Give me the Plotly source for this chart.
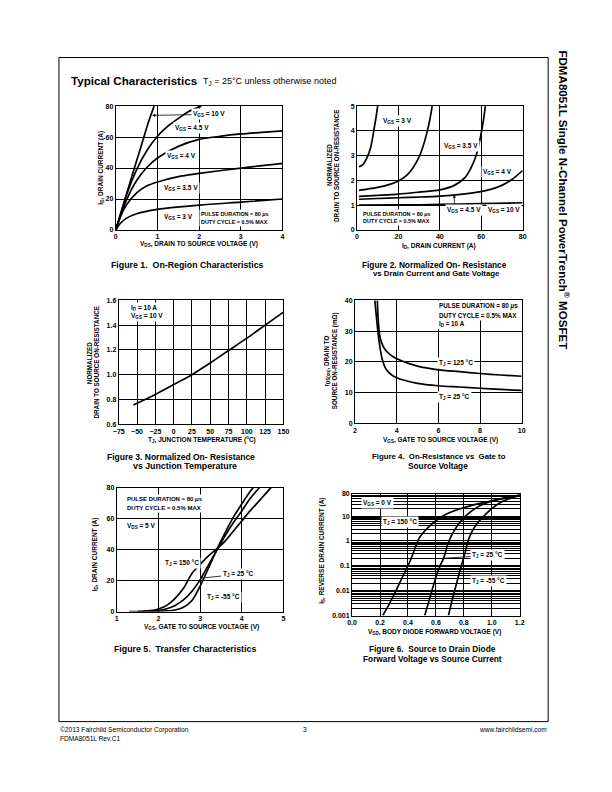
import plotly.graph_objects as go
import math

W, H = 612, 792

# ---------------- DATA ----------------
# Figure 1: ID vs VDS for several VGS
f1_vds_10 = [0, 0.2, 0.4, 0.6, 0.8, 0.92]
f1_id_10 = [0, 18, 36, 53.5, 71, 80]
f1_vds_45 = [0, 0.1, 0.25, 0.5, 0.75, 1.0, 1.25, 1.5, 1.75, 2.0, 2.05]
f1_id_45 = [0, 9, 22, 39, 51.5, 60.5, 67, 72, 76.5, 79.5, 80]
f1_vds_4 = [0, 0.1, 0.25, 0.5, 0.75, 1.0, 1.5, 2.0, 2.5, 3.0, 3.5, 4.0]
f1_id_4 = [0, 8, 19, 32, 40.5, 46.5, 54, 58.5, 60.5, 62, 63, 64]
f1_vds_35 = [0, 0.1, 0.25, 0.5, 0.75, 1.0, 1.5, 2.0, 3.0, 4.0]
f1_id_35 = [0, 8, 16, 24, 28.5, 31, 34.5, 36.5, 40, 43]
f1_vds_3 = [0, 0.1, 0.25, 0.5, 1.0, 2.0, 3.0, 4.0]
f1_id_3 = [0, 4, 7.5, 10.5, 13.3, 16, 18, 20]

# Figure 2: normalized RDS(on) vs ID
f2_id_a = [1, 3, 5, 6.5, 7.5, 8.5, 9.3, 10]
f2_r_a = [2.55, 2.65, 2.95, 3.3, 3.7, 4.2, 4.6, 5.0]
f2_id_b = [1, 5, 10, 15, 20, 24, 27, 30, 32, 34, 35.5, 36.3]
f2_r_b = [1.6, 1.65, 1.72, 1.82, 1.98, 2.2, 2.5, 2.95, 3.4, 4.0, 4.6, 5.0]
f2_id_c = [1, 10, 20, 30, 40, 47, 52, 55, 57.5, 59.5, 61, 62]
f2_r_c = [1.36, 1.4, 1.45, 1.53, 1.62, 1.8, 2.1, 2.5, 3.0, 3.7, 4.4, 5.0]
f2_id_d = [1, 10, 20, 30, 40, 50, 60, 65, 70, 75, 80]
f2_r_d = [1.24, 1.27, 1.3, 1.33, 1.37, 1.44, 1.55, 1.65, 1.8, 2.05, 2.4]
f2_id_e = [1, 20, 40, 60, 80]
f2_r_e = [1.0, 1.01, 1.03, 1.06, 1.1]

# Figure 3: normalized RDS(on) vs TJ
f3_tj = [-55, -25, 0, 25, 50, 75, 100, 125, 150]
f3_r = [0.755, 0.84, 0.92, 1.0, 1.095, 1.195, 1.295, 1.4, 1.505]

# Figure 4: RDS(on) vs VGS
f4_vgs_125 = [3.07, 3.12, 3.2, 3.35, 3.5, 3.75, 4, 5, 6, 7, 8, 9, 10]
f4_r_125 = [40, 33, 28, 25, 23.5, 22, 21, 18.6, 17.4, 16.8, 16.2, 15.7, 15.3]
f4_vgs_25 = [2.95, 3.05, 3.15, 3.3, 3.5, 3.75, 4, 5, 6, 7, 8, 9, 10]
f4_r_25 = [40, 33, 27, 21, 17.5, 15.8, 14.8, 13, 12.2, 11.8, 11.4, 11, 10.7]

# Figure 5: transfer characteristics
f5_vgs_150 = [1.3, 1.6, 1.8, 2.0, 2.2, 2.4, 2.6, 2.8, 3.0, 3.2, 3.4, 3.6, 3.8, 4.0, 4.2, 4.4, 4.6, 4.7]
f5_id_150 = [0, 0.2, 0.6, 1.7, 4, 8.5, 15, 24.5, 30.5, 36, 40.5, 45.5, 52, 58.5, 65, 71, 77, 80]
f5_vgs_25 = [1.5, 1.8, 2.0, 2.2, 2.4, 2.6, 2.8, 3.0, 3.2, 3.4, 3.6, 3.8, 4.0, 4.2, 4.42]
f5_id_25 = [0, 0.2, 0.6, 1.8, 4, 7.5, 13, 20.5, 30, 39.5, 49, 57.5, 65, 73, 80]
f5_vgs_m55 = [1.8, 2.2, 2.4, 2.6, 2.8, 3.0, 3.2, 3.4, 3.6, 3.8, 4.0, 4.2, 4.27]
f5_id_m55 = [0, 0.4, 1, 2.8, 7, 16.5, 28, 40, 51, 61, 69.5, 77.5, 80]

# Figure 6: body diode forward voltage vs source current
f6_vsd_150 = [0.22, 0.26, 0.30, 0.34, 0.38, 0.42, 0.46, 0.48, 0.52, 0.56, 0.6, 0.65, 0.7, 0.8, 0.9, 1.0, 1.1, 1.2]
f6_is_150 = [0.001, 0.0025, 0.007, 0.02, 0.06, 0.18, 0.7, 1.3, 2.5, 4.2, 6.5, 10, 14, 22, 31, 41, 53, 68]
f6_vsd_25 = [0.52, 0.56, 0.6, 0.63, 0.655, 0.68, 0.7, 0.73, 0.77, 0.82, 0.88, 0.95, 1.05, 1.2]
f6_is_25 = [0.001, 0.006, 0.035, 0.1, 0.2, 0.6, 1.2, 2.5, 5.5, 11, 20, 32, 48, 70]
f6_vsd_m55 = [0.69, 0.72, 0.75, 0.78, 0.81, 0.83, 0.86, 0.9, 0.95, 1.0, 1.05, 1.1, 1.15, 1.2]
f6_is_m55 = [0.001, 0.005, 0.022, 0.09, 0.35, 1, 2.5, 5.5, 11, 20, 32, 44, 56, 68]
f6_ytick_vals = [0.001, 0.01, 0.1, 1, 10, 80]
f6_ytick_text = ["0.001", "0.01", "0.1", "1", "10", "80"]

# ---------------- HELPERS ----------------
FONT = "Liberation Sans, Arial, sans-serif"


def px(x):
    return x / W


def py(y):
    return 1 - y / H


fig = go.Figure()


def add_line(xs, ys, ax):
    fig.add_trace(go.Scatter(
        x=xs, y=ys, mode="lines",
        line=dict(color="black", width=1.7, shape="spline", smoothing=0.8),
        xaxis="x" + ax, yaxis="y" + ax, showlegend=False, hoverinfo="skip"))


annotations = []


def ann(x, y, text, size=6.5, xanchor="left", angle=0, bold=True, bg=None, yanchor="middle"):
    d = dict(x=px(x), y=py(y), xref="paper", yref="paper", text=text, showarrow=False,
             xanchor=xanchor, yanchor=yanchor, textangle=angle,
             font=dict(family=FONT, size=size, color="black", weight="bold" if bold else "normal"))
    if bg:
        d["bgcolor"] = bg
        d["borderpad"] = 1
    annotations.append(d)


def lab(x, y, text, size=6.5):
    ann(x, y, text, size=size, bg="white")


def axis(dom_x0, dom_x1, rng, dtick=None, fmt=None, horizontal=True, **kw):
    if horizontal:
        domain = [px(dom_x0), px(dom_x1)]
    else:
        domain = [py(dom_x1), py(dom_x0)]
    d = dict(domain=domain, range=rng, showline=True, linecolor="black", linewidth=1,
             mirror=True, showgrid=True, gridcolor="black", gridwidth=1, zeroline=False,
             ticks="", fixedrange=True,
             tickfont=dict(family=FONT, size=7, color="black", weight="bold"))
    if dtick is not None:
        d["dtick"] = dtick
        d["tick0"] = rng[0]
    if fmt:
        d["tickformat"] = fmt
    d.update(kw)
    return d


# ---------------- TRACES ----------------
add_line(f1_vds_10, f1_id_10, "")
add_line(f1_vds_45, f1_id_45, "")
add_line(f1_vds_4, f1_id_4, "")
add_line(f1_vds_35, f1_id_35, "")
add_line(f1_vds_3, f1_id_3, "")

add_line(f2_id_a, f2_r_a, "2")
add_line(f2_id_b, f2_r_b, "2")
add_line(f2_id_c, f2_r_c, "2")
add_line(f2_id_d, f2_r_d, "2")
add_line(f2_id_e, f2_r_e, "2")

add_line(f3_tj, f3_r, "3")

add_line(f4_vgs_125, f4_r_125, "4")
add_line(f4_vgs_25, f4_r_25, "4")

add_line(f5_vgs_150, f5_id_150, "5")
add_line(f5_vgs_25, f5_id_25, "5")
add_line(f5_vgs_m55, f5_id_m55, "5")

add_line(f6_vsd_150, f6_is_150, "6")
add_line(f6_vsd_25, f6_is_25, "6")
add_line(f6_vsd_m55, f6_is_m55, "6")

# ---------------- AXES ----------------
layout = dict(
    width=W, height=H, margin=dict(l=0, r=0, t=0, b=0),
    paper_bgcolor="white", plot_bgcolor="white", showlegend=False,
    xaxis=axis(112, 282, [0, 4], 1, anchor="y"),
    yaxis=axis(103, 228, [0, 80], 20, horizontal=False, anchor="x"),
    xaxis2=axis(358, 527, [0, 80], 20, anchor="y2"),
    yaxis2=axis(103, 228, [0, 5], 1, horizontal=False, anchor="x2"),
    xaxis3=axis(115, 283, [-75, 150], 25, anchor="y3"),
    yaxis3=axis(299, 424, [0.6, 1.6], 0.2, ".1f", horizontal=False, anchor="x3"),
    xaxis4=axis(356, 526, [2, 10], 2, anchor="y4"),
    yaxis4=axis(299, 423, [0, 40], 10, horizontal=False, anchor="x4"),
    xaxis5=axis(113, 283, [1, 5], 1, anchor="y5"),
    yaxis5=axis(488, 613, [0, 80], 20, horizontal=False, anchor="x5"),
    xaxis6=axis(353, 524, [0, 1.2], 0.2, ".1f", anchor="y6"),
    yaxis6=axis(494, 617, [-3, math.log10(80)], horizontal=False, anchor="x6",
                type="log", tickmode="array", tickvals=f6_ytick_vals, ticktext=f6_ytick_text,
                minor=dict(showgrid=True, gridcolor="black", gridwidth=1, dtick="D1", ticks="")),
)

# ---------------- TEXT ----------------
# Header
ann(64, 77, "Typical Characteristics", size=11.6)
ann(199, 78, "T<sub>J</sub> = 25°C unless otherwise noted", size=9, bold=False)
# Side title
ann(569, 198, "FDMA8051L Single N-Channel PowerTrench<sup>®</sup> MOSFET", size=11.6,
    xanchor="center", angle=90)
# Footer
ann(53, 732, "©2013 Fairchild Semiconductor Corporation", size=6.6, bold=False)
ann(53, 741, "FDMA8051L Rev.C1", size=6.6, bold=False)
ann(305, 732, "3", size=6.6, bold=False, xanchor="center")
ann(554, 732, "www.fairchildsemi.com", size=6.6, bold=False, xanchor="right")

# Fig 1
ann(96, 165, "I<sub>D</sub>, DRAIN CURRENT (A)", size=6.5, xanchor="center", angle=-90)
ann(197, 242.5, "V<sub>DS</sub>, DRAIN TO SOURCE VOLTAGE (V)", size=6.5, xanchor="center")
ann(185, 263, "Figure 1.  On-Region Characteristics", size=8.8, xanchor="center")
lab(170, 125, "V<sub>GS</sub> = 4.5 V")
lab(162, 153, "V<sub>GS</sub> = 4 V")
lab(159, 186, "V<sub>GS</sub> = 3.5 V")
lab(159, 215, "V<sub>GS</sub> = 3 V")
lab(197, 212, "PULSE DURATION = 80 <i>μ</i>s", size=5.4)
lab(197, 220, "DUTY CYCLE = 0.5% MAX", size=5.4)
annotations.append(dict(x=0.87, y=74, xref="x", yref="y", text="V<sub>GS</sub> = 10 V",
                        showarrow=True, arrowhead=2, arrowsize=0.8, arrowwidth=0.8,
                        arrowcolor="black", ax=57, ay=-1, xanchor="center",
                        bgcolor="white", borderpad=1,
                        font=dict(family=FONT, size=6.5, color="black", weight="bold")))

# Fig 2
ann(330, 163, "NORMALIZED", size=6.3, xanchor="center", angle=-90)
ann(337, 163, "DRAIN TO SOURCE ON-RESISTANCE", size=6.3, xanchor="center", angle=-90)
ann(442, 244, "I<sub>D</sub>, DRAIN CURRENT (A)", size=6.5, xanchor="center")
ann(437, 263, "Figure 2. Normalized On- Resistance", size=8.3, xanchor="center")
ann(439, 272, "vs Drain Current and Gate Voltage", size=7.8, xanchor="center")
lab(382, 118, "V<sub>GS</sub> = 3 V")
lab(445, 143, "V<sub>GS</sub> = 3.5 V")
lab(485, 169, "V<sub>GS</sub> = 4 V")
lab(448, 208, "V<sub>GS</sub> = 4.5 V")
lab(490, 208, "V<sub>GS</sub> = 10 V")
lab(362, 212, "PULSE DURATION = 80 <i>μ</i>s", size=5.4)
lab(362, 219, "DUTY CYCLE = 0.5% MAX", size=5.4)
annotations.append(dict(x=47, y=1.42, xref="x2", yref="y2", text="", showarrow=True,
                        arrowhead=2, arrowsize=0.8, arrowwidth=0.8, arrowcolor="black",
                        ax=0, ay=11))

# Fig 3
ann(85, 362, "NORMALIZED", size=6.3, xanchor="center", angle=-90)
ann(92.5, 362, "DRAIN TO SOURCE ON-RESISTANCE", size=6.3, xanchor="center", angle=-90)
ann(200, 439, "T<sub>J</sub>, JUNCTION TEMPERATURE (<sup>o</sup>C)", size=6.5, xanchor="center")
ann(179, 457, "Figure 3. Normalized On- Resistance", size=8.5, xanchor="center")
ann(183, 466, "vs Junction Temperature", size=8.8, xanchor="center")
lab(125, 307, "I<sub>D</sub> = 10 A")
lab(125, 315, "V<sub>GS</sub> = 10 V")

# Fig 4
ann(327, 360, "r<sub>DS(on)</sub>, DRAIN TO", size=6.3, xanchor="center", angle=-90)
ann(335, 360, "SOURCE ON-RESISTANCE (mΩ)", size=6.3, xanchor="center", angle=-90)
ann(443, 440, "V<sub>GS</sub>, GATE TO SOURCE VOLTAGE (V)", size=6.5, xanchor="center")
ann(442, 457, "Figure 4.  On-Resistance vs  Gate to", size=7.8, xanchor="center")
ann(441, 466, "Source Voltage", size=8.3, xanchor="center")
lab(440, 305, "PULSE DURATION = 80 <i>μ</i>s", size=6.3)
lab(440, 314, "DUTY CYCLE = 0.5% MAX", size=6.3)
lab(440, 323, "I<sub>D</sub> = 10 A", size=6.3)
lab(440, 362, "T<sub>J</sub> = 125 °C", size=6.5)
lab(440, 397, "T<sub>J</sub> = 25 °C", size=6.5)

# Fig 5
ann(91, 555, "I<sub>D</sub>, DRAIN CURRENT (A)", size=6.5, xanchor="center", angle=-90)
ann(199, 628.5, "V<sub>GS</sub>, GATE TO SOURCE VOLTAGE (V)", size=6.5, xanchor="center")
ann(183, 651, "Figure 5.  Transfer Characteristics", size=8.8, xanchor="center")
lab(121, 499, "PULSE DURATION = 80 <i>μ</i>s", size=6.0)
lab(121, 508, "DUTY CYCLE = 0.5% MAX", size=6.0)
lab(121, 527, "V<sub>DS</sub> = 5 V")
lab(160, 564, "T<sub>J</sub> = 150 °C")
lab(203, 598, "T<sub>J</sub> = -55 °C")
annotations.append(dict(x=3.0, y=21.5, xref="x5", yref="y5", text="T<sub>J</sub> = 25 °C",
                        showarrow=True, arrowhead=0, arrowwidth=0.8, arrowcolor="black",
                        ax=38, ay=-4, xanchor="center", bgcolor="white", borderpad=1,
                        font=dict(family=FONT, size=6.5, color="black", weight="bold")))

# Fig 6
ann(322, 552, "I<sub>S</sub>, REVERSE DRAIN CURRENT (A)", size=6.5, xanchor="center", angle=-90)
ann(437, 634, "V<sub>SD</sub>, BODY DIODE FORWARD VOLTAGE (V)", size=6.5, xanchor="center")
ann(435, 651, "Figure 6.  Source to Drain Diode", size=8.3, xanchor="center")
ann(435, 661, "Forward Voltage vs Source Current", size=8.3, xanchor="center")
lab(362, 503, "V<sub>GS</sub> = 0 V")
lab(383, 523, "T<sub>J</sub> = 150 °C")
lab(473, 582, "T<sub>J</sub> = -55 °C")
annotations.append(dict(x=0.655, y=math.log10(0.2), xref="x6", yref="y6", text="T<sub>J</sub> = 25 °C",
                        showarrow=True, arrowhead=0, arrowwidth=0.8, arrowcolor="black",
                        ax=44, ay=-3, xanchor="center", bgcolor="white", borderpad=1,
                        font=dict(family=FONT, size=6.5, color="black", weight="bold")))

layout["annotations"] = annotations
layout["shapes"] = [dict(type="rect", xref="paper", yref="paper", x0=px(54), x1=px(553),
                         y0=py(724), y1=py(54), line=dict(color="black", width=1))]

fig.update_layout(**layout)
fig.write_html("out.html", config={"displayModeBar": False},
               post_script="document.body.style.margin='0';document.body.style.overflow='hidden';")
